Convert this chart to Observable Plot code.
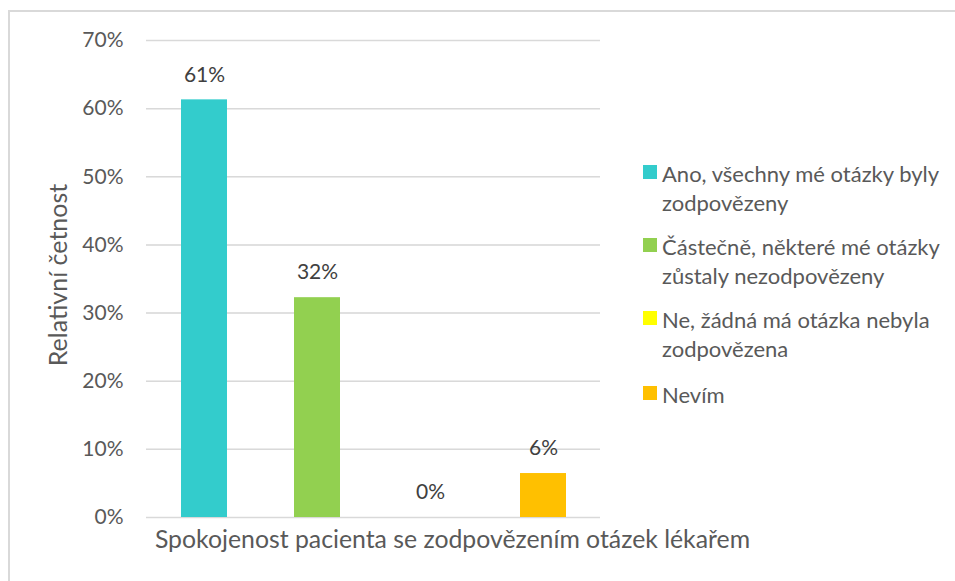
<!DOCTYPE html>
<html>
<head>
<meta charset="utf-8">
<script src="https://cdn.jsdelivr.net/npm/d3@7"></script>
<script src="https://cdn.jsdelivr.net/npm/@observablehq/plot@0.6"></script>
<style>
  html, body { margin: 0; padding: 0; background: #fff; }
  #wrap { position: relative; width: 955px; height: 581px; overflow: hidden; font-family: Lato, sans-serif; color: #595959; }
  #frame { position: absolute; left: 8px; top: 10px; width: 1000px; height: 1000px; border-top: 2px solid #d9d9d9; border-left: 2px solid #d9d9d9; box-sizing: border-box; }
  #chart { position: absolute; left: 0; top: 0; }
  #legend { position: absolute; left: 643px; top: 159px; font-size: 22px; line-height: 29px; }
  .item { display: flex; align-items: flex-start; margin-bottom: 15px; }
  .item:nth-child(3) { margin-bottom: 17px; }
  .sw { width: 14px; height: 14px; margin-top: 6px; margin-right: 5px; flex: none; }
</style>
</head>
<body>
<div id="wrap">
  <div id="frame"></div>
  <div id="chart"></div>
  <div id="legend"></div>
</div>
<script>
const categories = [
  "Ano, všechny mé otázky byly zodpovězeny",
  "Částečně, některé mé otázky zůstaly nezodpovězeny",
  "Ne, žádná má otázka nebyla zodpovězena",
  "Nevím"
];
const legendLines = [
  ["Ano, všechny mé otázky byly", "zodpovězeny"],
  ["Částečně, některé mé otázky", "zůstaly nezodpovězeny"],
  ["Ne, žádná má otázka nebyla", "zodpovězena"],
  ["Nevím"]
];
const values = [19/31, 10/31, 0, 2/31];
const colors = ["#33CCCC", "#92D050", "#FFFF00", "#FFC000"];
const yTicks = [0, 0.1, 0.2, 0.3, 0.4, 0.5, 0.6, 0.7];
const yTitle = "Relativní četnost";
const xTitle = "Spokojenost pacienta se zodpovězením otázek lékařem";

const data = categories.map((c, i) => ({cat: c, value: values[i]}));
const fmt = d3.format(".0%");

const chart = Plot.plot({
  width: 955,
  height: 581,
  marginLeft: 146,
  marginRight: 355,
  marginTop: 40,
  marginBottom: 64,
  style: { fontFamily: "Lato, sans-serif", fontSize: "21px", color: "#595959", background: "transparent" },
  x: { domain: categories, paddingInner: 0.595, paddingOuter: 0.2975, axis: null },
  y: { domain: [0, 0.7], ticks: yTicks, tickFormat: fmt, tickSize: 0, tickPadding: 23, grid: true, label: null },
  color: { domain: categories, range: colors },
  marks: [
    Plot.gridY(yTicks, { stroke: "#d9d9d9", strokeOpacity: 1, strokeWidth: 1.5 }),
    Plot.barY(data, { x: "cat", y: "value", fill: "cat" }),
    Plot.text(data, { x: "cat", y: "value", text: d => fmt(d.value), dy: -25, fill: "#404040", fontSize: 21 }),
    Plot.text([yTitle], { frameAnchor: "left", textAnchor: "middle", lineAnchor: "middle", dx: -88, dy: -4, rotate: -90, fontSize: 25, fill: "#595959" }),
    Plot.text([xTitle], { frameAnchor: "bottom", textAnchor: "middle", lineAnchor: "middle", dx: 79, dy: 22.5, fontSize: 24.8, fill: "#595959" })
  ]
});
document.getElementById("chart").appendChild(chart);

const legend = d3.select("#legend");
legendLines.forEach((lines, i) => {
  const it = legend.append("div").attr("class", "item");
  it.append("div").attr("class", "sw").style("background", colors[i]);
  it.append("div").html(lines.join("<br>"));
});
</script>
</body>
</html>
